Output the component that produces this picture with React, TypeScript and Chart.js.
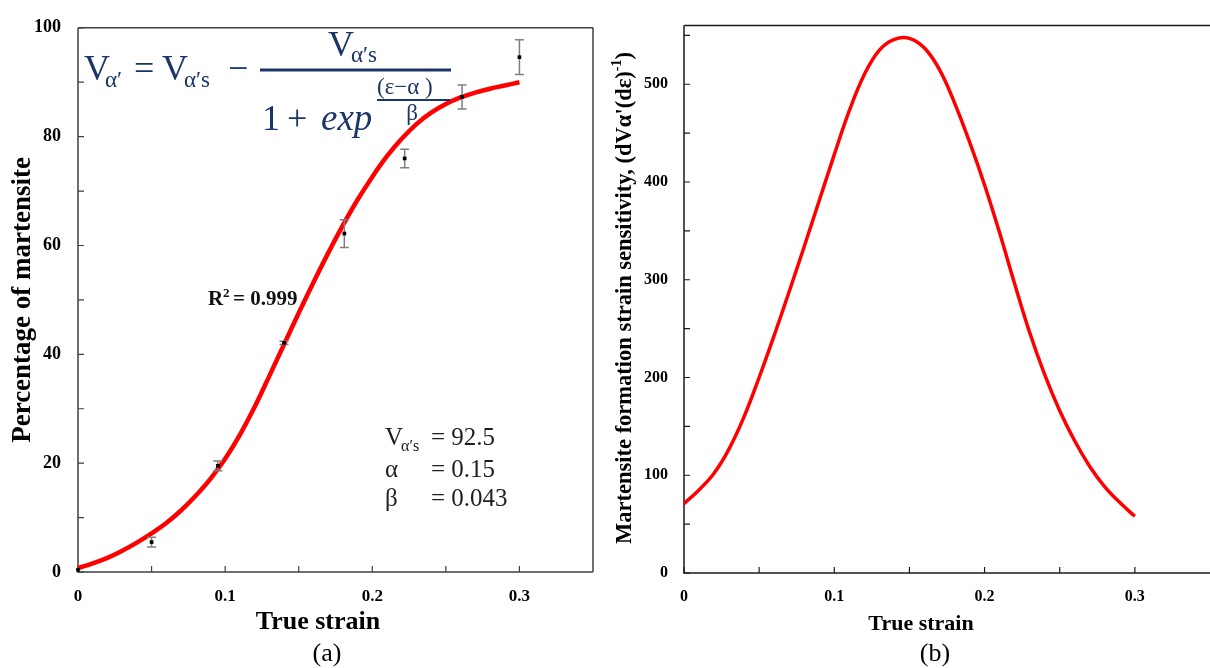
import React, { useEffect, useRef } from 'react';
import { Chart, registerables } from 'chart.js';

Chart.register(...registerables);

// ---------- data ----------
const strainMeasured = [0, 0.05, 0.095, 0.14, 0.181, 0.222, 0.261, 0.3];
const martensiteMeasured = [0.4, 5.5, 19.5, 42.1, 62.2, 76.0, 87.3, 94.6];
const martensiteError = [0, 0.9, 0.9, 0.3, 2.55, 1.7, 2.2, 3.2];

const fitStrain = [0, 0.01, 0.02, 0.03, 0.04, 0.05, 0.06, 0.07, 0.08, 0.09, 0.1, 0.11, 0.12, 0.13, 0.14, 0.15, 0.16, 0.17, 0.18, 0.19, 0.2, 0.21, 0.22, 0.23, 0.24, 0.25, 0.26, 0.27, 0.28, 0.29, 0.3];
const fitMartensite = [0.7, 1.6, 2.6, 3.9, 5.4, 7.1, 9.0, 11.3, 14.0, 17.1, 20.8, 25.2, 30.3, 36.0, 41.8, 47.6, 53.2, 58.6, 63.7, 68.4, 72.6, 76.4, 79.6, 82.3, 84.4, 86.0, 87.2, 88.1, 88.8, 89.4, 90.0];

const sensStrain = [0, 0.01, 0.02, 0.03, 0.04, 0.05, 0.06, 0.07, 0.08, 0.09, 0.1, 0.11, 0.12, 0.13, 0.14, 0.15, 0.16, 0.17, 0.18, 0.19, 0.2, 0.21, 0.22, 0.23, 0.24, 0.25, 0.26, 0.27, 0.28, 0.29, 0.3];
const sensValue = [71, 85, 102, 127, 160, 200, 243, 288, 334, 381, 428, 473, 510, 535, 546, 547, 537, 515, 481, 441, 397, 348, 296, 246, 203, 166, 135, 109, 88, 72, 58];

const strainTicks = [0, 0.1, 0.2, 0.3];
const strainTickLabels = ['0', '0.1', '0.2', '0.3'];
const strainMinorTicks = [0.05, 0.15, 0.25];
const martensiteTicks = [0, 20, 40, 60, 80, 100];
const martensiteTickLabels = ['0', '20', '40', '60', '80', '100'];
const martensiteMinorTicks = [10, 30, 50, 70, 90];
const sensTicks = [0, 100, 200, 300, 400, 500];
const sensTickLabels = ['0', '100', '200', '300', '400', '500'];
const sensMinorTicks = [50, 150, 250, 350, 450, 550];

// ---------- styling ----------
const SERIF = '"Liberation Serif", "Times New Roman", serif';
const NAVY = '#1c3567';
const W = 605;
const H = 668;
const RIGHT_OFFSET = 605;

const f = (size: number, style = '') => `${style} ${size}px ${SERIF}`.trim();

function text(ctx: CanvasRenderingContext2D, s: string, x: number, y: number, font: string, color: string, align: CanvasTextAlign = 'left') {
  ctx.font = font;
  ctx.fillStyle = color;
  ctx.textAlign = align;
  ctx.textBaseline = 'alphabetic';
  ctx.fillText(s, x, y);
}

function makeFramePlugin(color: string, xMinor: number[], yMinor: number[], drawRight: boolean) {
  return {
    id: 'frameTicks',
    beforeDatasetsDraw(chart: any) {
      const { ctx, chartArea } = chart;
      const { left, top, right, bottom } = chartArea;
      const xs = chart.scales.x;
      const ys = chart.scales.y;
      ctx.save();
      ctx.strokeStyle = color;
      ctx.lineWidth = 1.5;
      ctx.beginPath();
      ctx.moveTo(left, top);
      ctx.lineTo(left, bottom);
      ctx.lineTo(right, bottom);
      ctx.moveTo(left, top);
      ctx.lineTo(right, top);
      if (drawRight) {
        ctx.moveTo(right, top);
        ctx.lineTo(right, bottom);
      }
      ctx.stroke();
      ctx.lineWidth = 1.2;
      ctx.beginPath();
      const xv = [...xs.ticks.map((t: any) => t.value), ...xMinor];
      xv.forEach((v: number) => {
        const px = xs.getPixelForValue(v);
        ctx.moveTo(px, bottom);
        ctx.lineTo(px, bottom - 6);
      });
      const yv = [...ys.ticks.map((t: any) => t.value), ...yMinor];
      yv.forEach((v: number) => {
        const py = ys.getPixelForValue(v);
        ctx.moveTo(left, py);
        ctx.lineTo(left + 6, py);
      });
      ctx.stroke();
      ctx.restore();
    },
  };
}

const errorBarPlugin = {
  id: 'errorBars',
  beforeDatasetDraw(chart: any, args: any) {
    if (args.index !== 0) return;
    const { ctx } = chart;
    const xs = chart.scales.x;
    const ys = chart.scales.y;
    ctx.save();
    ctx.strokeStyle = '#7f7f7f';
    ctx.lineWidth = 1.5;
    strainMeasured.forEach((sx, i) => {
      const e = martensiteError[i];
      if (!e) return;
      const px = xs.getPixelForValue(sx);
      const pt = ys.getPixelForValue(martensiteMeasured[i] + e);
      const pb = ys.getPixelForValue(martensiteMeasured[i] - e);
      ctx.beginPath();
      ctx.moveTo(px, pt);
      ctx.lineTo(px, pb);
      ctx.moveTo(px - 4.5, pt);
      ctx.lineTo(px + 4.5, pt);
      ctx.moveTo(px - 4.5, pb);
      ctx.lineTo(px + 4.5, pb);
      ctx.stroke();
    });
    ctx.restore();
  },
};

const leftTextPlugin = {
  id: 'leftText',
  afterDraw(chart: any) {
    const ctx: CanvasRenderingContext2D = chart.ctx;
    ctx.save();
    // equation
    text(ctx, 'V', 84, 80, f(36), NAVY);
    text(ctx, 'α′', 105, 87, f(23), NAVY);
    text(ctx, '=', 134, 80, f(36), NAVY);
    text(ctx, 'V', 162, 80, f(36), NAVY);
    text(ctx, 'α′s', 184, 87, f(23), NAVY);
    text(ctx, '−', 228, 80, f(36), NAVY);
    ctx.strokeStyle = NAVY;
    ctx.lineWidth = 3;
    ctx.beginPath();
    ctx.moveTo(260, 70);
    ctx.lineTo(451, 70);
    ctx.stroke();
    text(ctx, 'V', 328, 56, f(36), NAVY);
    text(ctx, 'α′s', 351, 62, f(23), NAVY);
    text(ctx, '1', 262, 130, f(36), NAVY);
    text(ctx, '+', 287, 130, f(36), NAVY);
    text(ctx, 'exp', 321, 130, f(37, 'italic'), NAVY);
    text(ctx, '(ε−α )', 377, 94, f(23), NAVY);
    ctx.lineWidth = 2;
    ctx.beginPath();
    ctx.moveTo(377, 100);
    ctx.lineTo(450, 100);
    ctx.stroke();
    text(ctx, 'β', 412, 120, f(23), NAVY, 'center');

    // parameters
    const dark = '#1e1e1e';
    text(ctx, 'V', 385, 445, f(25), dark);
    text(ctx, 'α′s', 401, 451, f(16), dark);
    text(ctx, '= 92.5', 431, 445, f(25), dark);
    text(ctx, 'α', 385, 477, f(25), dark);
    text(ctx, '= 0.15', 431, 477, f(25), dark);
    text(ctx, 'β', 385, 506, f(25), dark);
    text(ctx, '= 0.043', 431, 506, f(25), dark);

    // R squared
    text(ctx, 'R', 208, 305, f(21, 'bold'), '#111');
    text(ctx, '2', 223, 297, f(13, 'bold'), '#111');
    text(ctx, '= 0.999', 233, 305, f(21, 'bold'), '#111');

    // axis title and caption
    text(ctx, 'True strain', 318, 629, f(26, 'bold'), '#000', 'center');
    text(ctx, '(a)', 327, 661, f(26), '#000', 'center');
    ctx.restore();
  },
};

const rightTextPlugin = {
  id: 'rightText',
  afterDraw(chart: any) {
    const ctx: CanvasRenderingContext2D = chart.ctx;
    ctx.save();
    text(ctx, 'True strain', 921 - RIGHT_OFFSET, 630, f(22, 'bold'), '#000', 'center');
    text(ctx, '(b)', 935 - RIGHT_OFFSET, 661, f(26), '#000', 'center');

    const main = "Martensite formation strain sensitivity, (dVα'(dε)";
    const sup = '-1';
    const tail = ')';
    const big = 22.5;
    const small = 14;
    ctx.font = f(big, 'bold');
    const w1 = ctx.measureText(main).width;
    const w3 = ctx.measureText(tail).width;
    ctx.font = f(small, 'bold');
    const w2 = ctx.measureText(sup).width;
    const total = w1 + w2 + w3;
    ctx.translate(18, 298);
    ctx.rotate(-Math.PI / 2);
    let x0 = -total / 2;
    text(ctx, main, x0, 8, f(big, 'bold'), '#000');
    x0 += w1;
    text(ctx, sup, x0, -2, f(small, 'bold'), '#000');
    x0 += w2;
    text(ctx, tail, x0, 8, f(big, 'bold'), '#000');
    ctx.restore();
  },
};

function tickFont(size: number) {
  return { family: SERIF, size, weight: 'bold' as const };
}

function LeftChart() {
  const ref = useRef<HTMLCanvasElement | null>(null);
  useEffect(() => {
    if (!ref.current) return;
    const chart = new Chart(ref.current, {
      type: 'scatter',
      data: {
        datasets: [
          {
            type: 'scatter',
            data: strainMeasured.map((x, i) => ({ x, y: martensiteMeasured[i] })),
            pointStyle: 'rect',
            pointRadius: 2.6,
            backgroundColor: '#000',
            borderColor: '#000',
            borderWidth: 0,
            clip: false,
          } as any,
          {
            type: 'line',
            data: fitStrain.map((x, i) => ({ x, y: fitMartensite[i] })),
            borderColor: '#ff0000',
            borderWidth: 4.5,
            pointRadius: 0,
            fill: false,
            tension: 0.4,
          } as any,
        ],
      },
      options: {
        responsive: false,
        animation: false,
        events: [],
        layout: { padding: { left: 0, top: 19, right: 12, bottom: 0 } },
        plugins: { legend: { display: false }, tooltip: { enabled: false } },
        scales: {
          x: {
            type: 'linear',
            min: 0,
            max: 0.35,
            grid: { display: false, drawTicks: false },
            border: { display: false },
            ticks: {
              includeBounds: false,
              padding: 14,
              color: '#000',
              font: tickFont(17),
              callback: (_v: any, i: number) => strainTickLabels[i],
            },
            afterBuildTicks: (s: any) => {
              s.ticks = strainTicks.map((v) => ({ value: v }));
            },
            afterFit: (s: any) => {
              s.height = 96;
            },
          },
          y: {
            type: 'linear',
            min: 0,
            max: 100,
            grid: { display: false, drawTicks: false },
            border: { display: false },
            ticks: {
              padding: 17,
              color: '#000',
              font: tickFont(18),
              callback: (_v: any, i: number) => martensiteTickLabels[i],
            },
            afterBuildTicks: (s: any) => {
              s.ticks = martensiteTicks.map((v) => ({ value: v }));
            },
            afterFit: (s: any) => {
              s.width = 78;
            },
            title: {
              display: true,
              text: 'Percentage of martensite',
              color: '#000',
              font: { family: SERIF, size: 27, weight: 'bold' },
              padding: { top: 7, bottom: 0 },
            },
          },
        },
      } as any,
      plugins: [makeFramePlugin('#404040', strainMinorTicks, martensiteMinorTicks, true), errorBarPlugin, leftTextPlugin],
    });
    return () => chart.destroy();
  }, []);
  return <canvas ref={ref} width={W} height={H} style={{ position: 'absolute', left: 0, top: 0, width: W, height: H }} />;
}

function RightChart() {
  const ref = useRef<HTMLCanvasElement | null>(null);
  useEffect(() => {
    if (!ref.current) return;
    const chart = new Chart(ref.current, {
      type: 'line',
      data: {
        datasets: [
          {
            data: sensStrain.map((x, i) => ({ x, y: sensValue[i] })),
            borderColor: '#ff0000',
            borderWidth: 3.5,
            pointRadius: 0,
            fill: false,
            tension: 0.4,
          } as any,
        ],
      },
      options: {
        responsive: false,
        animation: false,
        events: [],
        layout: { padding: { left: 0, top: 12, right: 0, bottom: 0 } },
        plugins: { legend: { display: false }, tooltip: { enabled: false } },
        scales: {
          x: {
            type: 'linear',
            min: 0,
            max: 0.35,
            grid: { display: false, drawTicks: false },
            border: { display: false },
            ticks: {
              includeBounds: false,
              padding: 14,
              color: '#000',
              font: tickFont(16),
              callback: (_v: any, i: number) => strainTickLabels[i],
            },
            afterBuildTicks: (s: any) => {
              s.ticks = strainTicks.map((v) => ({ value: v }));
            },
            afterFit: (s: any) => {
              s.height = 95;
            },
          },
          y: {
            type: 'linear',
            min: 0,
            max: 560,
            grid: { display: false, drawTicks: false },
            border: { display: false },
            ticks: {
              padding: 16,
              color: '#000',
              font: tickFont(16),
              callback: (_v: any, i: number) => sensTickLabels[i],
            },
            afterBuildTicks: (s: any) => {
              s.ticks = sensTicks.map((v) => ({ value: v }));
            },
            afterFit: (s: any) => {
              s.width = 79;
            },
          },
        },
      } as any,
      plugins: [makeFramePlugin('#1a1a1a', strainMinorTicks, sensMinorTicks, false), rightTextPlugin],
    });
    return () => chart.destroy();
  }, []);
  return <canvas ref={ref} width={W} height={H} style={{ position: 'absolute', left: RIGHT_OFFSET, top: 0, width: W, height: H }} />;
}

export default function App() {
  return (
    <div style={{ position: 'absolute', left: 0, top: 0, width: 1210, height: 668, background: '#fff', overflow: 'hidden' }}>
      <LeftChart />
      <RightChart />
    </div>
  );
}
